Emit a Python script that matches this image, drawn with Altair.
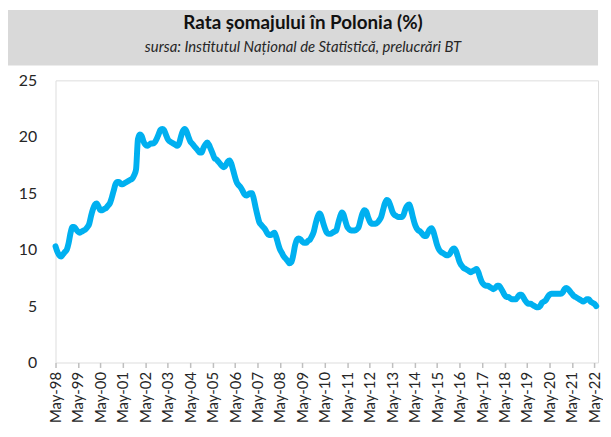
import altair as alt
import pandas as pd

# Monthly registered unemployment rate (%), May 1998 - Jun 2022
y1998 = [10.3, 9.8, 9.5, 9.4, 9.6, 9.8, 10.0, 10.6]  # May-Dec
y1999 = [11.5, 12.0, 12.0, 11.8, 11.6, 11.5, 11.6, 11.7, 11.8, 12.0, 12.3, 13.0]
y2000 = [13.6, 14.0, 14.1, 13.8, 13.5, 13.5, 13.6, 13.7, 13.9, 14.1, 14.6, 15.2]
y2001 = [15.8, 16.0, 16.0, 15.8, 15.8, 15.9, 16.0, 16.1, 16.2, 16.3, 16.6, 17.1]
y2002 = [19.8, 20.2, 20.1, 19.6, 19.3, 19.2, 19.3, 19.4, 19.4, 19.5, 19.8, 20.2]
y2003 = [20.6, 20.7, 20.6, 20.2, 19.8, 19.6, 19.5, 19.4, 19.3, 19.2, 19.4, 20.0]
y2004 = [20.5, 20.7, 20.5, 20.0, 19.6, 19.4, 19.2, 19.0, 18.8, 18.6, 18.6, 19.0]
y2005 = [19.3, 19.5, 19.3, 18.9, 18.5, 18.1, 18.0, 17.8, 17.6, 17.4, 17.3, 17.5]
y2006 = [17.8, 17.9, 17.6, 17.0, 16.4, 15.9, 15.7, 15.5, 15.2, 14.9, 14.8, 14.9]
y2007 = [15.0, 15.0, 14.5, 13.7, 13.0, 12.4, 12.2, 12.0, 11.8, 11.5, 11.3, 11.3]
y2008 = [11.4, 11.5, 11.1, 10.5, 10.0, 9.7, 9.4, 9.2, 9.0, 8.8, 8.9, 9.5]
y2009 = [10.4, 10.9, 11.0, 10.9, 10.7, 10.6, 10.6, 10.8, 10.9, 11.2, 11.6, 12.3]
y2010 = [12.9, 13.2, 13.0, 12.4, 11.9, 11.5, 11.4, 11.4, 11.5, 11.6, 11.7, 12.3]
y2011 = [12.9, 13.3, 13.1, 12.5, 12.0, 11.8, 11.7, 11.7, 11.7, 11.8, 12.0, 12.6]
y2012 = [13.2, 13.5, 13.4, 12.9, 12.5, 12.3, 12.3, 12.3, 12.4, 12.6, 12.9, 13.5]
y2013 = [14.1, 14.4, 14.3, 13.9, 13.4, 13.1, 13.0, 12.9, 12.9, 12.9, 13.1, 13.6]
y2014 = [13.9, 14.0, 13.6, 12.9, 12.3, 11.9, 11.7, 11.6, 11.4, 11.2, 11.2, 11.5]
y2015 = [11.8, 11.9, 11.6, 11.0, 10.4, 10.0, 9.8, 9.7, 9.6, 9.5, 9.5, 9.7]
y2016 = [10.0, 10.1, 9.9, 9.4, 8.9, 8.6, 8.4, 8.3, 8.2, 8.1, 8.0, 8.1]
y2017 = [8.2, 8.3, 8.0, 7.5, 7.1, 6.9, 6.8, 6.8, 6.7, 6.6, 6.5, 6.6]
y2018 = [6.8, 6.8, 6.6, 6.3, 6.0, 5.8, 5.8, 5.7, 5.6, 5.6, 5.6, 5.8]
y2019 = [6.0, 6.0, 5.8, 5.5, 5.3, 5.2, 5.2, 5.1, 5.0, 4.9, 4.9, 5.0]
y2020 = [5.3, 5.4, 5.5, 5.8, 6.0, 6.1, 6.1, 6.1, 6.1, 6.1, 6.1, 6.2]
y2021 = [6.5, 6.6, 6.5, 6.3, 6.1, 5.9, 5.8, 5.7, 5.6, 5.5, 5.4, 5.5]
y2022 = [5.6, 5.6, 5.4, 5.3, 5.2, 5.0]  # Jan-Jun

years_values = [
    (1998, 5, y1998), (1999, 1, y1999), (2000, 1, y2000), (2001, 1, y2001),
    (2002, 1, y2002), (2003, 1, y2003), (2004, 1, y2004), (2005, 1, y2005),
    (2006, 1, y2006), (2007, 1, y2007), (2008, 1, y2008), (2009, 1, y2009),
    (2010, 1, y2010), (2011, 1, y2011), (2012, 1, y2012), (2013, 1, y2013),
    (2014, 1, y2014), (2015, 1, y2015), (2016, 1, y2016), (2017, 1, y2017),
    (2018, 1, y2018), (2019, 1, y2019), (2020, 1, y2020), (2021, 1, y2021),
    (2022, 1, y2022),
]

dates, values = [], []
for yr, m0, vals in years_values:
    for i, v in enumerate(vals):
        dates.append(f"{yr}-{m0 + i:02d}-01")
        values.append(v)

df = pd.DataFrame({"date": dates, "rate": values})

tick_years = list(range(1998, 2023))
y_ticks = [0, 5, 10, 15, 20, 25]

title_text = "Rata șomajului în Polonia (%)"
subtitle_text = "sursa: Institutul Național de Statistică, prelucrări BT"

FONT = "Lato"

line = alt.Chart(df).mark_line(
    color="#00B0F0", strokeWidth=6, interpolate="monotone", strokeCap="round", strokeJoin="round"
).encode(
    x=alt.X(
        "date:T",
        scale=alt.Scale(
            type="utc",
            domain=[alt.DateTime(year=1998, month=5, date=1, utc=True),
                    alt.DateTime(year=2022, month=7, date=1, utc=True)],
        ),
        axis=alt.Axis(
            title=None,
            values=[alt.DateTime(year=y, month=5, date=1, utc=True) for y in tick_years],
            labelExpr="utcFormat(datum.value, '%b-%y')",
            labelAngle=270,
            labelAlign="right",
            labelBaseline="middle",
            labelFontSize=15,
            labelFont=FONT,
            labelColor="#262626",
            labelPadding=4,
            labelOverlap=False,
            labelFlush=False,
            labelBound=False,
            ticks=True,
            tickSize=5,
            tickColor="#BFBFBF",
            tickWidth=1.5,
            domain=False,
            grid=False,
        ),
    ),
    y=alt.Y(
        "rate:Q",
        scale=alt.Scale(domain=[0, 25], nice=False),
        axis=alt.Axis(
            title=None,
            values=y_ticks,
            labelFontSize=16,
            labelFont=FONT,
            labelColor="#262626",
            labelPadding=19,
            ticks=False,
            domain=False,
            grid=False,
        ),
    ),
)

band_df = pd.DataFrame({"k": [0]})
band = alt.Chart(band_df).mark_rect(color="#D9D9D9").encode(
    x=alt.value(-48), x2=alt.value(548), y=alt.value(-71), y2=alt.value(-15)
)
title = alt.Chart(band_df).mark_text(
    text=title_text, font=FONT, fontSize=19, fontWeight="bold", color="#111111",
    align="center", baseline="middle"
).encode(x=alt.value(250), y=alt.value(-58))
subtitle = alt.Chart(band_df).mark_text(
    text=subtitle_text, font=FONT, fontSize=15, fontStyle="italic", color="#262626",
    align="center", baseline="middle"
).encode(x=alt.value(250), y=alt.value(-34))

chart = alt.layer(band, title, subtitle, line).properties(
    width=548, height=285, padding=0
).configure_view(
    stroke="#BFBFBF", strokeWidth=1.5
).configure(background="white")

chart.save("out.html", embed_options={"renderer": "svg", "actions": False})
